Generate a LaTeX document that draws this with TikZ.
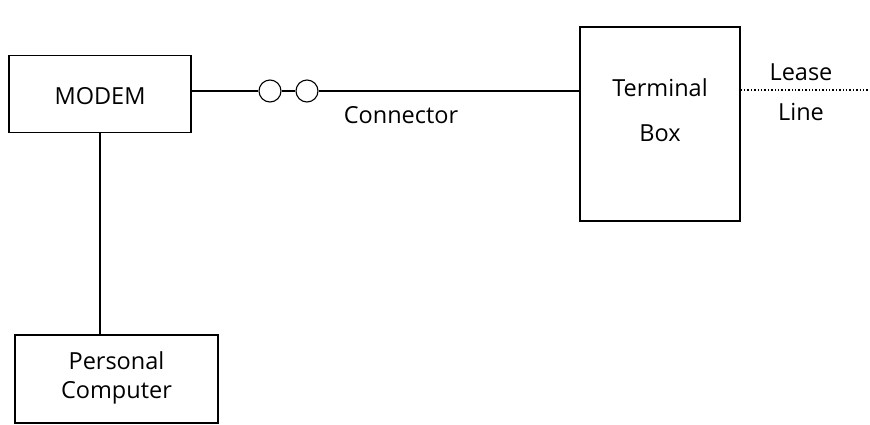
\documentclass[tikz,border=0pt]{standalone}
\usepackage{fontspec}
\setmainfont{Open Sans}
\begin{document}
\begin{tikzpicture}[x=1pt,y=-1pt,
  box/.style={draw,line width=1.1pt,inner sep=0pt},
  lbl/.style={font=\fontsize{23.5}{26}\selectfont,inner sep=0pt},
  wire/.style={line width=1.1pt},
  ring/.style={draw,circle,line width=1.1pt,minimum size=22pt,inner sep=0pt}]
\useasboundingbox (0,0) rectangle (870,424);
\node[box,minimum width=182pt,minimum height=77pt] (modem) at (100,94) {};
\node[lbl] (modemt) at (100,96) {MODEM};
\node[box,minimum width=203pt,minimum height=88pt] (pc) at (116.5,379) {};
\node[lbl] (pc1) at (116.5,361) {Personal};
\node[lbl] (pc2) at (116.5,393) {Computer};
\node[box,minimum width=160pt,minimum height=194pt] (tb) at (660,124) {};
\node[lbl] (tb1) at (660,88) {Terminal};
\node[lbl] (tb2) at (660,133) {Box};
\node[ring] (c1) at (270,91) {};
\node[ring] (c2) at (307,91) {};
\node[lbl] (conn) at (401,115) {Connector};
\coordinate (lend) at (870,90);
\node[lbl] (l1) at (801,72) {Lease};
\node[lbl] (l2) at (801,112) {Line};
\draw[wire] (modem.east |- c1) -- (c1.west);
\draw[wire] (c1.east) -- (c2.west);
\draw[wire] (c2.east) -- (tb.west |- c2);
\draw[wire] (modem.south) -- (pc.north -| modem.south);
\draw[line width=1.4pt,dotted] (tb.east |- lend) -- (lend);
\end{tikzpicture}
\end{document}
